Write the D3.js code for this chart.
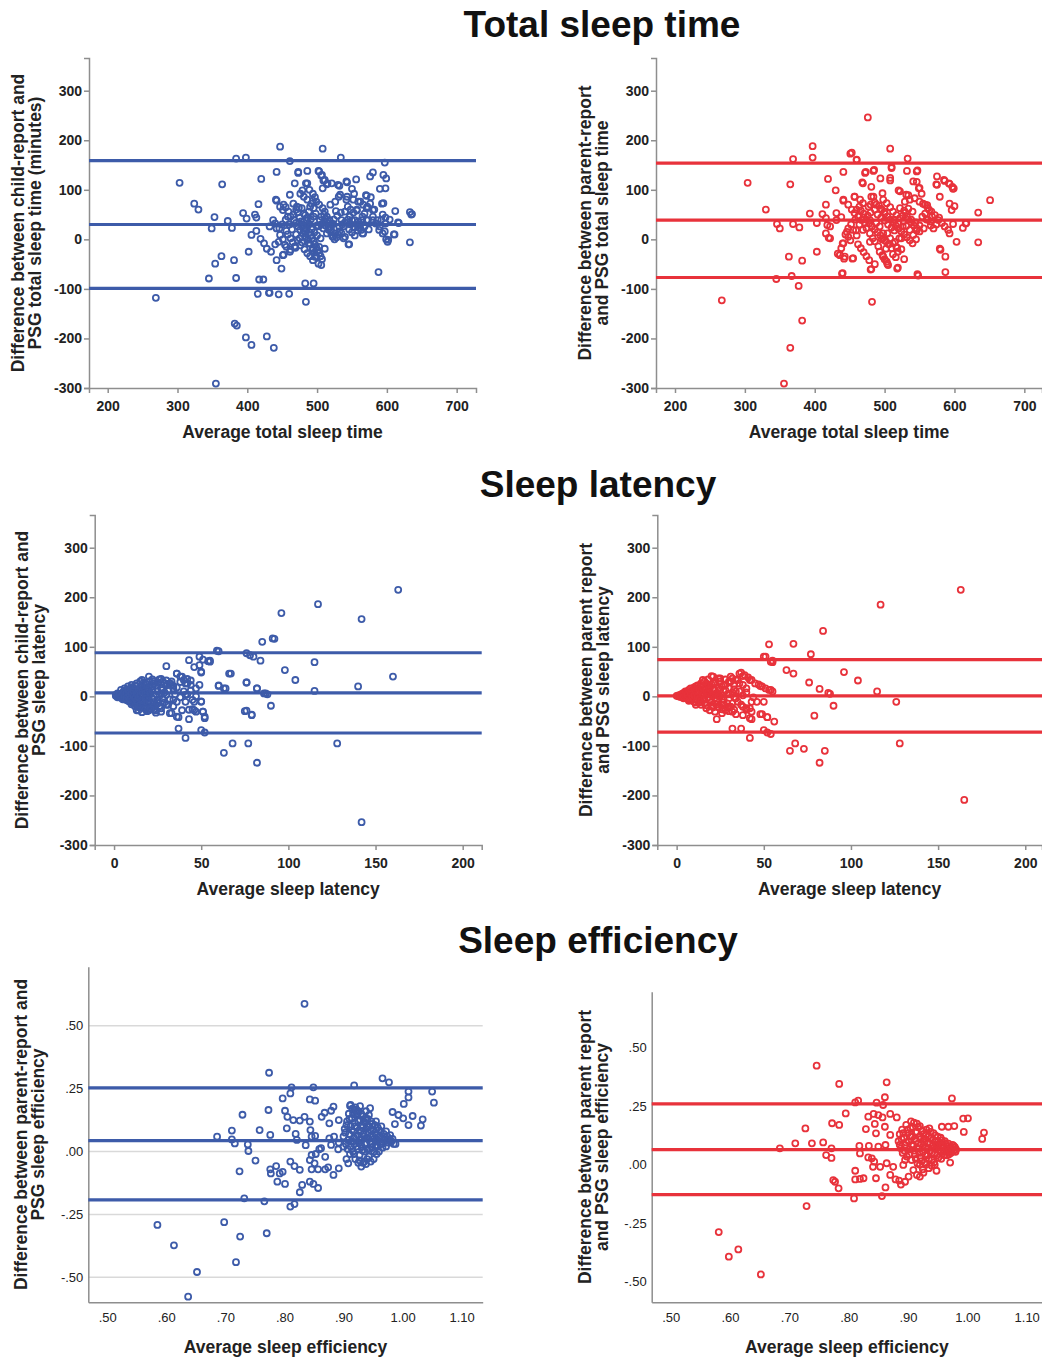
<!DOCTYPE html>
<html lang="en">
<head>
<meta charset="UTF-8">
<title>Bland-Altman plots: sleep report vs PSG</title>
<script src="https://d3js.org/d3.v7.min.js"></script>
<style>
  body { margin: 0; background: #fff; font-family: "Liberation Sans", Arial, sans-serif; }
  .title { font-size: 37px; font-weight: bold; text-anchor: middle; fill: #111; }
  .axis-title { font-size: 17.5px; font-weight: bold; text-anchor: middle; fill: #222; }
  .axis path, .axis line { stroke: #8e8e8e; stroke-width: 1.5; }
  .axis text { font-family: "Liberation Sans", Arial, sans-serif; fill: #222; }
  .grid { stroke: #d9d9d9; stroke-width: 1.5; }
</style>
</head>
<body>
<svg id="chart" width="1042" height="1359"></svg>
<script>
// [average, difference] pairs
const tstChild = [
  [269,-118],[303,114],[324,72],[330,60],[364,111],[353,45],[349,22],[372,37],[378,23],[345,-79],[354,-49],[363,-34],[381,-42],[384,-78],[394,53],[399,42],[398,165],[384,163],[406,9],[402,-25],[411,50],[413,44],[416,71],[420,122],[413,17],[419,1],[424,-8],[428,-19],[434,-25],[417,-81],[423,-81],[415,-110],[431,-108],[445,-111],[460,-110],[442,136],[447,187],[461,158],[442,78],[447,66],[451,59],[440,32],[442,22],[445,-5],[440,-10],[442,-42],[449,-59],[451,-32],[456,-15],[461,-25],[456,17],[461,90],[468,113],[473,134],[486,138],[486,113],[479,99],[466,72],[474,64],[481,52],[485,39],[483,5],[488,-8],[493,-22],[497,-35],[502,-49],[506,-52],[469,-17],[483,-89],[484,-126],[502,138],[506,129],[509,119],[514,111],[508,183],[534,165],[532,108],[531,86],[543,115],[550,102],[556,121],[553,92],[543,86],[519,70],[526,76],[527,57],[523,31],[532,25],[523,5],[545,-10],[540,5],[511,-19],[503,-15],[557,58],[562,76],[570,89],[576,127],[580,135],[577,85],[580,59],[563,19],[566,12],[571,39],[580,39],[587,39],[588,-66],[589,19],[594,12],[593,72],[594,50],[597,155],[595,130],[599,123],[598,103],[598,32],[599,0],[601,-5],[611,10],[612,57],[617,33],[633,55],[636,51],[633,-6],[382,-170],[385,-174],[398,-198],[406,-213],[428,-196],[438,-219],[355,-291],
  [473,136],[503,137],[507,130],[511,120],[515,113],[508,103],[484,113],[489,100],[494,92],[497,85],[499,76],[503,70],[508,63],[511,56],[514,46],[518,39],[521,31],[526,12],[528,4],[441,80],[452,70],[455,65],[459,56],[462,46],[467,39],[470,33],[473,26],[476,19],[480,12],[484,6],[487,-1],[490,-9],[494,-18],[496,-27],[499,-35],[471,66],[478,63],[483,49],[495,63],[495,46],[504,39],[502,26],[509,22],[514,12],[437,39],[432,26],[447,9],[451,0],[454,-11],[452,-31],[462,-21],[468,-14],[521,113],[530,110],[533,90],[542,117],[542,80],[552,80],[559,76],[566,70],[571,63],[571,88],[582,60],[590,102],[595,73],[540,56],[547,46],[550,39],[554,39],[559,36],[564,39],[573,39],[535,39],[538,26],[535,12],[538,2],[546,-10],[565,12],[557,60],[597,16],[602,-1],[610,10],[616,34],[635,50],[495,-89],[432,-108],
  [478,30],[482,24],[488,32],[492,20],[496,14],[500,8],[505,2],[491,40],[498,52],[506,46],[512,28],[516,20],[520,14],[524,40],[529,48],[534,54],[506,30],[510,36],[500,28],[466,50],[460,30],[464,20],[470,10],[475,2],[478,-6],[548,30],[553,24],[558,18],[562,30],[568,26],[574,20],[544,66],[548,60],[552,54],[486,80],[481,86],[476,92],
  [485,20],[487,28],[489,14],[491,8],[493,2],[495,-4],[497,-10],[499,-16],[501,-22],[503,-28],[505,-34],[507,-40],[470,60],[472,54],[475,44],[477,36],[479,28],[481,18],[483,12],[486,44],[488,56],[490,66],[492,72],[494,78],[510,50],[512,42],[514,34],[518,26],[520,20],[522,6],[525,0],[530,10],[532,16],[536,30],[540,34],[544,40],[546,20],[550,14],[554,8],[557,30],[560,24],[565,46],[568,52],[572,66],[576,72],[580,46],[584,32],[590,26],[592,40],[598,44],[604,40],[455,40],[458,46],[450,30],[446,22],[458,10],[462,2],[465,-6],[472,-2],[476,-12],[482,-20],[486,-28],[490,-34],[494,-42]
];
const tstParent = [
  [267,-123],[304,114],[330,60],[345,-80],[346,31],[350,22],[363,-35],[365,111],[369,162],[367,-74],[369,31],[365,-219],[356,-291],[377,-94],[378,24],[382,-43],[382,-164],[393,52],[397,188],[397,165],[403,-25],[403,33],[411,51],[416,43],[416,70],[416,12],[420,3],[419,122],[418,29],[430,99],[433,-29],[436,-32],[438,45],[439,-69],[440,-8],[441,78],[441,136],[442,-39],[446,15],[448,5],[451,-2],[451,173],[454,-39],[460,160],[457,86],[459,18],[466,58],[469,113],[472,134],[476,246],[479,-5],[480,-61],[482,-126],[481,106],[484,138],[481,86],[494,123],[497,93],[497,-32],[502,-19],[504,-49],[508,183],[510,146],[508,119],[512,-30],[515,-5],[518,-17],[518,-59],[520,99],[521,2],[532,138],[533,163],[534,89],[546,116],[546,137],[548,-73],[550,104],[553,92],[546,18],[555,72],[561,69],[564,59],[568,46],[575,127],[575,110],[579,86],[580,-21],[586,118],[587,-35],[587,-66],[593,112],[597,106],[598,102],[593,72],[596,59],[591,19],[593,12],[598,31],[600,67],[603,-5],[612,23],[616,32],[634,54],[634,-6],[651,79],
  [453,175],[460,161],[473,136],[485,140],[510,144],[508,124],[547,139],[468,115],[541,117],[522,97],[531,90],[549,103],[574,111],[585,120],[592,113],[599,103],[441,80],[448,70],[453,60],[457,53],[462,46],[467,39],[472,33],[474,23],[479,12],[483,2],[486,-4],[491,-14],[493,-25],[498,-35],[503,-45],[505,-52],[457,86],[465,80],[469,73],[477,66],[484,86],[498,80],[503,73],[508,65],[512,56],[517,49],[522,43],[527,36],[531,27],[536,19],[541,9],[545,0],[522,63],[529,76],[536,80],[543,83],[550,76],[558,70],[562,63],[567,56],[572,49],[577,39],[582,33],[586,26],[617,33],[508,2],[512,-8],[517,-16],[519,-25],[524,2],[498,12],[493,26],[488,33],[479,39],[469,19],[455,19],[441,-8],[438,-18],[436,-31],[443,-35],[455,-38],[481,-60],[519,-57],[547,-70],[579,-19],[440,-68],[431,39],[422,26],[422,2],[431,53],
  [490,50],[495,44],[500,38],[505,30],[510,24],[514,18],[486,60],[480,54],[476,48],[514,40],[520,32],[526,26],[532,46],[538,40],[544,34],[550,28],[556,22],[560,40],[566,36],[500,56],[494,62],[488,70],[470,52],[464,30],[460,8],[504,12],[500,-2],[496,0],[540,56],[534,62],[528,58],
  [470,44],[474,40],[478,32],[482,26],[486,20],[490,14],[494,8],[498,2],[502,-4],[506,-10],[510,-18],[480,70],[486,74],[492,68],[496,60],[500,52],[504,46],[508,40],[512,34],[516,28],[520,22],[524,16],[528,10],[532,4],[536,-2],[540,-8],[526,48],[530,54],[534,40],[538,34],[542,28],[546,22],[550,16],[554,46],[558,52],[562,40],[566,28],[570,22],[574,30],[578,44],[460,60],[464,66],[458,40],[452,30],[448,22],[444,10],[462,-10],[466,-18],[470,-26],[474,-34],[478,-42],[486,-50],[500,-40],[516,-36],[524,-20],[528,-40]
];
const slChild = [
  [163,215],[117,186],[142,156],[96,168],[92,116],[85,110],[60,91],[76,87],[78,83],[80,80],[84,72],[49,80],[51,74],[54,71],[55,70],[43,73],[46,59],[49,63],[50,48],[66,46],[98,53],[115,69],[104,33],[160,40],[140,20],[115,11],[82,16],[76,28],[60,22],[64,16],[86,6],[88,4],[90,-19],[75,-30],[79,-37],[30,61],[36,46],[39,40],[42,35],[44,32],[41,26],[38,29],[20,40],[27,35],[30,32],[32,26],[34,21],[49,23],[41,3],[46,-11],[45,-26],[47,-31],[51,-31],[52,-44],[43,-46],[37,-42],[37,-65],[41,-84],[50,-68],[52,-73],[63,-114],[68,-95],[77,-95],[82,-134],[128,-95],[142,-254],[47,0],[50,-10],[34,-7],[30,-17],[27,-31],[24,-33],[22,-21],[18,-24],[16,-32],[13,-28],[33,-34],[30,3],
  [1,3],[2,6],[3,-1],[4,13],[5,-4],[6,16],[7,-7],[8,20],[9,-11],[10,23],[11,-14],[13,26],[13,-17],[15,30],[15,-22],[17,-21],[16,33],[20,-1],[23,-11],[23,26],[24,-17],[26,34],[27,6],[28,-4],[29,26],[31,-17],[32,26],[32,-34],[33,23],[34,16],[36,-11],[36,-41],[36,46],[38,40],[40,33],[41,-11],[42,26],[43,-27],[44,23],[45,-7],[46,-28],[47,16],[50,50],[50,-11],[51,-31],[52,-41],[55,72],[59,92],[60,21],[63,16],[67,46],[76,28],[76,-29],[79,-38],[82,16],[87,6],[91,117],
  [2,0],[3,2],[4,4],[4,-3],[5,8],[6,2],[6,-6],[7,10],[7,0],[8,4],[8,-9],[9,14],[9,6],[10,-2],[10,10],[11,17],[11,-8],[12,4],[12,12],[12,-12],[13,20],[14,8],[14,-6],[15,14],[15,-14],[16,22],[16,0],[17,10],[17,-10],[18,26],[18,16],[18,-18],[19,4],[20,30],[20,10],[21,-14],[22,20],[22,34],[23,-26],[24,4],[25,28],[25,-8],[26,-20],[27,16],[28,30],[29,-12],[20,-28],[12,-20],[10,-16],[14,-22],[19,-30],[24,-28],
  [1,1],[2,-2],[3,4],[4,0],[5,5],[5,-6],[6,12],[6,-1],[7,6],[7,-4],[8,14],[8,-1],[9,2],[9,-6],[10,18],[10,6],[11,1],[11,11],[12,-4],[12,22],[13,6],[13,-9],[14,14],[14,-2],[15,20],[15,4],[15,-18],[16,10],[16,-8],[17,18],[17,28],[18,6],[18,-4],[19,24],[19,-12],[20,16],[20,-8],[21,6],[22,12],[22,-4],[23,30],[23,-20],[24,22],[25,10],[25,-14],[26,0],[27,24],[27,-24],[28,16],[29,8],[30,22],[31,12],[32,-6],[33,30],[34,-20],[35,4],[36,18],[38,-2],[39,-28],[40,10],[42,4],[44,12],[18,-26],[14,-28],[21,-26]
];
const slParent = [
  [163,215],[117,185],[84,132],[53,105],[67,106],[77,85],[50,80],[55,72],[55,69],[63,53],[67,46],[96,49],[104,32],[76,28],[82,15],[115,10],[87,7],[88,5],[90,-19],[79,-39],[126,-11],[128,-95],[165,-209],[65,-110],[68,-95],[73,-106],[85,-110],[82,-134],[50,-68],[52,-73],[54,-76],[42,-84],[32,-65],[37,-65],[23,-46],[49,-36],[52,-42],[56,-51],[43,-46],[43,-11],[50,-11],[38,23],[36,46],[38,41],[42,33],[45,26],[48,21],[51,16],[54,13],[55,10],[21,40],[25,36],[28,34],[30,30],[34,33],[33,14],[15,33],[17,26],[19,20],[21,13],[23,7],[25,0],[27,-7],[29,-14],[31,-21],[33,-27],[34,-36],[35,-11],[38,-21],[40,-27],[42,-24],
  [20,41],[31,30],[33,25],[35,33],[37,48],[39,43],[41,38],[43,33],[47,24],[49,20],[53,13],[11,20],[10,13],[8,9],[6,6],[4,4],[2,3],[0,1],[4,-4],[7,-7],[10,-11],[11,-17],[14,-17],[17,-24],[19,-28],[22,-31],[26,-34],[28,-28],[30,-21],[32,-14],[32,-31],[37,-17],[38,-38],[40,-24],[42,-44],[43,-31],[46,-11],[48,-36],[52,-42],[51,80],[54,70],
  [1,0],[2,-1],[3,1],[3,5],[5,2],[5,-2],[6,9],[7,2],[8,-4],[9,12],[9,3],[10,-6],[11,6],[12,16],[12,-9],[13,9],[13,-12],[14,20],[14,2],[15,-8],[16,14],[16,-14],[17,4],[18,22],[18,-2],[19,10],[20,-20],[21,26],[22,4],[23,-16],[24,16],[25,30],[26,-6],[27,22],[28,12],[29,-22],[30,4],[31,40],[32,8],[34,-4],[36,10],[40,8],[44,-2],[24,-22],[20,-12],
  [1,2],[2,1],[3,-2],[4,7],[4,-1],[5,10],[6,-4],[6,3],[7,13],[7,-9],[8,6],[8,16],[9,-2],[10,18],[10,2],[11,-12],[11,10],[12,22],[12,0],[13,15],[13,-5],[14,26],[14,-10],[15,18],[15,3],[16,30],[16,-4],[17,12],[17,-18],[18,34],[18,8],[19,-6],[19,16],[20,24],[20,2],[21,-22],[22,12],[22,28],[23,-8],[24,36],[24,0],[25,14],[26,20],[26,-26],[27,-12],[28,24],[29,4],[30,-30],[30,16],[32,36],[33,-2],[34,10],[36,26],[38,2],[40,16],[26,-18],[22,-14]
];
const seChild = [
  [0.834,0.587],[0.774,0.313],[0.966,0.291],[0.977,0.275],[0.918,0.263],[0.812,0.255],[0.849,0.255],[1.050,0.238],[1.010,0.238],[1.010,0.215],[1.053,0.194],[1.002,0.189],[0.810,0.231],[0.797,0.211],[0.843,0.207],[0.852,0.202],[0.773,0.165],[0.801,0.162],[0.729,0.146],[0.945,0.172],[0.983,0.157],[0.993,0.145],[1.001,0.132],[1.017,0.141],[1.034,0.128],[1.031,0.103],[1.010,0.105],[0.987,0.109],[0.805,0.138],[0.815,0.125],[0.826,0.123],[0.834,0.138],[0.843,0.119],[0.804,0.092],[0.758,0.085],[0.711,0.083],[0.686,0.059],[0.711,0.048],[0.716,0.032],[0.738,0.028],[0.739,0.002],[0.776,0.066],[0.819,0.070],[0.821,0.046],[0.836,0.025],[0.844,0.085],[0.846,0.059],[0.852,0.062],[0.751,-0.036],[0.724,-0.079],[0.732,-0.186],[0.766,-0.198],[0.810,-0.219],[0.817,-0.209],[0.826,-0.162],[0.830,-0.133],[0.857,-0.145],[0.843,-0.120],[0.849,-0.129],[0.801,-0.129],[0.788,-0.120],[0.792,-0.087],[0.797,-0.081],[0.776,-0.071],[0.777,-0.087],[0.786,-0.058],[0.810,-0.040],[0.817,-0.058],[0.826,-0.073],[0.846,-0.071],[0.851,-0.047],[0.843,-0.034],[0.846,-0.014],[0.853,-0.010],[0.859,0.009],[0.862,0.013],[0.869,-0.021],[0.857,-0.071],[0.869,-0.071],[0.874,-0.063],[0.883,-0.093],[0.892,-0.067],[0.908,-0.047],[0.891,0.009],[0.879,0.026],[0.876,0.052],[0.884,0.059],[0.892,0.035],[0.900,0.019],[0.863,0.138],[0.868,0.154],[0.879,0.162],[0.883,0.178],[0.876,0.112],[0.892,0.125],[0.911,0.182],[0.918,0.167],[0.923,0.152],[0.585,-0.292],[0.613,-0.373],[0.652,-0.479],[0.637,-0.577],[0.698,-0.281],[0.725,-0.338],[0.718,-0.440],[0.770,-0.325],
  [0.900,0.060],[0.902,0.090],[0.904,0.030],[0.906,0.120],[0.907,0.010],[0.909,0.150],[0.910,0.070],[0.911,-0.010],[0.912,0.100],[0.913,0.040],[0.914,0.130],[0.915,0.170],[0.916,0.000],[0.917,0.080],[0.918,0.055],[0.919,0.115],[0.920,-0.030],[0.921,0.145],[0.922,0.020],[0.923,0.095],[0.924,0.065],[0.925,0.160],[0.926,0.035],[0.927,-0.015],[0.928,0.125],[0.929,0.080],[0.930,0.050],[0.931,0.105],[0.932,0.005],[0.933,0.140],[0.934,0.070],[0.935,-0.040],[0.936,0.030],[0.937,0.115],[0.938,0.090],[0.939,0.055],[0.940,0.010],[0.941,0.130],[0.942,0.075],[0.943,-0.020],[0.944,0.100],[0.945,0.040],[0.946,0.060],[0.947,0.120],[0.948,0.015],[0.950,0.085],[0.951,-0.030],[0.952,0.050],[0.953,0.105],[0.955,0.025],[0.956,0.070],[0.958,0.095],[0.959,0.040],[0.960,0.000],[0.962,0.060],[0.963,0.080],[0.965,0.030],[0.966,0.050],[0.968,0.070],[0.970,0.045],[0.972,0.020],[0.974,0.060],[0.976,0.035],[0.978,0.050],[0.981,0.040],[0.985,0.030],[0.988,0.030],[0.925,-0.045],[0.930,-0.060],[0.938,-0.050],[0.946,-0.040],[0.905,-0.030],[0.928,0.180],[0.920,0.175],[0.912,0.185],[0.938,0.160],
  [0.903,0.075],[0.905,0.105],[0.908,0.045],[0.910,0.130],[0.912,0.020],[0.914,0.085],[0.916,0.150],[0.918,0.030],[0.919,0.100],[0.921,0.060],[0.922,0.165],[0.924,0.010],[0.925,0.120],[0.927,0.085],[0.928,0.045],[0.930,0.150],[0.931,0.020],[0.932,0.095],[0.934,0.120],[0.935,0.060],[0.936,0.000],[0.938,0.130],[0.939,0.030],[0.940,0.100],[0.942,0.050],[0.943,0.145],[0.944,0.010],[0.946,0.085],[0.947,0.030],[0.949,0.110],[0.950,0.060],[0.952,0.000],[0.953,0.075],[0.955,0.120],[0.956,0.045],[0.958,0.020],[0.960,0.085],[0.961,0.060],[0.964,0.100],[0.966,0.015],[0.969,0.060],[0.972,0.080],[0.975,0.045],[0.979,0.065],[0.983,0.050],[0.940,-0.030],[0.933,-0.045],[0.927,-0.035],[0.918,-0.010],[0.956,-0.010],[0.962,0.030]
];
const seParent = [
  [0.746,0.423],[0.784,0.345],[0.864,0.352],[0.861,0.288],[0.974,0.283],[0.811,0.266],[0.816,0.274],[0.847,0.265],[0.858,0.255],[0.795,0.219],[0.833,0.205],[0.842,0.217],[0.850,0.212],[0.857,0.202],[0.870,0.217],[0.881,0.202],[0.727,0.155],[0.772,0.177],[0.784,0.170],[0.829,0.152],[0.844,0.174],[0.846,0.134],[0.861,0.162],[0.870,0.127],[0.993,0.197],[1.001,0.198],[0.994,0.140],[0.957,0.162],[0.968,0.162],[0.978,0.165],[1.028,0.137],[1.025,0.110],[0.684,0.070],[0.710,0.091],[0.738,0.091],[0.757,0.095],[0.771,0.070],[0.762,0.041],[0.771,0.029],[0.818,0.080],[0.819,0.048],[0.834,0.080],[0.833,0.031],[0.839,0.027],[0.850,0.077],[0.843,0.013],[0.853,-0.009],[0.841,-0.009],[0.862,0.084],[0.864,0.006],[0.875,-0.009],[0.870,-0.044],[0.879,-0.063],[0.885,-0.068],[0.888,-0.085],[0.895,-0.073],[0.901,-0.051],[0.892,-0.001],[0.895,0.020],[0.811,-0.026],[0.811,-0.063],[0.819,-0.061],[0.825,-0.058],[0.846,-0.058],[0.774,-0.066],[0.777,-0.073],[0.783,-0.101],[0.809,-0.144],[0.856,-0.134],[0.862,-0.097],[0.729,-0.177],[0.581,-0.288],[0.598,-0.393],[0.614,-0.362],[0.652,-0.469],[0.909,-0.023],[0.915,-0.044],[0.920,-0.051],[0.926,-0.034],[0.948,-0.026],[0.971,0.009],
  [0.884,0.100],[0.886,0.130],[0.888,0.070],[0.890,0.150],[0.891,0.050],[0.893,0.115],[0.895,0.085],[0.897,0.170],[0.898,0.035],[0.900,0.135],[0.901,0.100],[0.903,0.065],[0.904,0.155],[0.906,0.020],[0.907,0.120],[0.909,0.080],[0.910,0.180],[0.912,0.045],[0.913,0.140],[0.914,0.100],[0.916,0.005],[0.917,0.160],[0.918,0.070],[0.920,0.120],[0.921,0.030],[0.922,0.090],[0.924,0.145],[0.925,0.055],[0.927,0.110],[0.928,0.010],[0.930,0.075],[0.931,0.130],[0.933,0.040],[0.934,0.095],[0.936,0.155],[0.937,0.060],[0.939,0.115],[0.940,0.020],[0.942,0.085],[0.943,0.135],[0.945,0.045],[0.946,0.100],[0.948,0.070],[0.950,0.120],[0.951,0.030],[0.953,0.090],[0.955,0.055],[0.957,0.105],[0.959,0.075],[0.961,0.040],[0.963,0.090],[0.965,0.060],[0.967,0.080],[0.969,0.045],[0.971,0.070],[0.973,0.055],[0.975,0.085],[0.977,0.060],[0.979,0.075],[0.981,0.065],[0.935,-0.015],[0.925,-0.020],[0.945,0.000],[0.915,0.175],[0.905,0.185],
  [0.886,0.085],[0.889,0.110],[0.892,0.135],[0.894,0.060],[0.897,0.095],[0.899,0.150],[0.902,0.045],[0.904,0.120],[0.906,0.085],[0.908,0.160],[0.910,0.060],[0.911,0.110],[0.913,0.025],[0.915,0.140],[0.917,0.090],[0.919,0.050],[0.920,0.165],[0.922,0.110],[0.923,0.015],[0.925,0.075],[0.926,0.130],[0.928,0.095],[0.929,0.040],[0.931,0.150],[0.932,0.065],[0.934,0.120],[0.935,0.025],[0.937,0.090],[0.938,0.140],[0.940,0.050],[0.941,0.105],[0.943,0.070],[0.944,0.010],[0.946,0.125],[0.948,0.085],[0.949,0.040],[0.951,0.100],[0.953,0.065],[0.955,0.115],[0.956,0.025],[0.958,0.085],[0.960,0.055],[0.962,0.100],[0.964,0.070],[0.966,0.040],[0.968,0.090],[0.970,0.060],[0.972,0.050],[0.974,0.070],[0.977,0.080],[0.980,0.055],[0.930,0.000],[0.940,-0.005],[0.920,0.000]
];

// upper limit, mean bias, lower limit
const tstChildLines = [159, 30, -99];
const tstParentLines = [154, 39, -77];
const slChildLines = [88, 7, -74];
const slParentLines = [74, 1, -72];
const seChildLines = [0.253, 0.043, -0.192];
const seParentLines = [0.26, 0.064, -0.128];

const tstXTicks = [200, 300, 400, 500, 600, 700];
const slXTicks = [0, 50, 100, 150, 200];
const diffTicks = [-300, -200, -100, 0, 100, 200, 300];
const seXTicks = [0.5, 0.6, 0.7, 0.8, 0.9, 1.0, 1.1];
const seYTicks = [-0.5, -0.25, 0, 0.25, 0.5];

const blue = "#3d5ba9";
const red = "#e8323b";

const svg = d3.select("#chart");

const plain = d => String(d);
const spss = d => d.toFixed(2).replace(/^(-?)0\./, "$1.");

const panels = [
  {data: tstChild, lines: tstChildLines, color: blue,
   x: [173.2, 727.7], xr: [89, 476], y: [-300, 366], yr: [388, 58],
   xTicks: tstXTicks, yTicks: diffTicks, fx: plain, fy: plain, top: true, grid: false,
   yTitle: ["Difference between child-report and", "PSG total sleep time (minutes)"], yTitleX: 24,
   xTitle: "Average total sleep time", xTitleY: 438},
  {data: tstParent, lines: tstParentLines, color: red,
   x: [172.8, 725.3], xr: [656, 1042], y: [-300, 366], yr: [388, 58],
   xTicks: tstXTicks, yTicks: diffTicks, fx: plain, fy: plain, top: true, grid: false,
   yTitle: ["Difference between parent-report", "and PSG total sleep time"], yTitleX: 591,
   xTitle: "Average total sleep time", xTitleY: 438},
  {data: slChild, lines: slChildLines, color: blue,
   x: [-11.1, 210.9], xr: [94.7, 481.7], y: [-300, 366], yr: [845, 515],
   xTicks: slXTicks, yTicks: diffTicks, fx: plain, fy: plain, top: true, grid: false,
   yTitle: ["Difference between child-report and", "PSG sleep latency"], yTitleX: 28,
   xTitle: "Average sleep latency", xTitleY: 895},
  {data: slParent, lines: slParentLines, color: red,
   x: [-11.1, 209.6], xr: [657.3, 1042], y: [-300, 366], yr: [845, 515],
   xTicks: slXTicks, yTicks: diffTicks, fx: plain, fy: plain, top: true, grid: false,
   yTitle: ["Difference between parent report", "and PSG sleep latency"], yTitleX: 592,
   xTitle: "Average sleep latency", xTitleY: 895},
  {data: seChild, lines: seChildLines, color: blue,
   x: [0.468, 1.1356], xr: [88.3, 482.7], y: [-0.5994, 0.7345], yr: [1302.3, 966.7],
   xTicks: seXTicks, yTicks: seYTicks, fx: spss, fy: spss, top: false, grid: true,
   yTitle: ["Difference between parent-report and", "PSG sleep efficiency"], yTitleX: 27,
   xTitle: "Average sleep efficiency", xTitleY: 1353},
  {data: seParent, lines: seParentLines, color: red,
   x: [0.468, 1.1258], xr: [651.7, 1042], y: [-0.588, 0.739], yr: [1302.3, 991.7],
   xTicks: seXTicks, yTicks: seYTicks, fx: spss, fy: spss, top: false, grid: false,
   yTitle: ["Difference between parent report", "and PSG sleep efficiency"], yTitleX: 591,
   xTitle: "Average sleep efficiency", xTitleY: 1353}
];

function drawPanel(p) {
  const x = d3.scaleLinear().domain(p.x).range(p.xr);
  const y = d3.scaleLinear().domain(p.y).range(p.yr);
  const g = svg.append("g");

  if (p.grid) {
    g.selectAll(".grid")
      .data(p.yTicks)
      .join("line")
      .attr("class", "grid")
      .attr("x1", p.xr[0]).attr("x2", p.xr[1])
      .attr("y1", d => y(d)).attr("y2", d => y(d));
  }

  const xAxis = d3.axisBottom(x).tickValues(p.xTicks).tickFormat(p.fx)
    .tickSizeOuter(0).tickSize(p.top ? 5 : 0).tickPadding(p.top ? 8 : 10);
  const yAxis = d3.axisLeft(y).tickValues(p.yTicks).tickFormat(p.fy)
    .tickSizeOuter(0).tickSize(p.top ? 5 : 0).tickPadding(p.top ? 2 : 5);

  g.append("g")
    .attr("class", "axis")
    .attr("transform", `translate(0,${p.yr[0]})`)
    .call(xAxis);
  g.append("g")
    .attr("class", "axis")
    .attr("transform", `translate(${p.xr[0]},0)`)
    .call(yAxis);

  g.selectAll(".axis text")
    .style("font-size", p.top ? "14px" : "13px")
    .style("font-weight", p.top ? "bold" : "normal");

  g.selectAll(".ref")
    .data(p.lines)
    .join("line")
    .attr("class", "ref")
    .attr("x1", p.xr[0]).attr("x2", p.xr[1])
    .attr("y1", d => y(d)).attr("y2", d => y(d))
    .attr("stroke", p.color)
    .attr("stroke-width", 3.2);

  g.selectAll(".pt")
    .data(p.data)
    .join("circle")
    .attr("class", "pt")
    .attr("cx", d => x(d[0]))
    .attr("cy", d => y(d[1]))
    .attr("r", 3)
    .attr("fill", "none")
    .attr("stroke", p.color)
    .attr("stroke-width", 1.8);

  const cy = (p.yr[0] + p.yr[1]) / 2;
  const t = g.append("text")
    .attr("class", "axis-title")
    .attr("transform", `translate(${p.yTitleX},${cy}) rotate(-90)`);
  p.yTitle.forEach((line, i) => {
    t.append("tspan").attr("x", 0).attr("y", i * 17).text(line);
  });

  g.append("text")
    .attr("class", "axis-title")
    .attr("x", (p.xr[0] + p.xr[1]) / 2)
    .attr("y", p.xTitleY)
    .text(p.xTitle);
}

panels.forEach(drawPanel);

const titles = [
  {text: "Total sleep time", x: 602, y: 37},
  {text: "Sleep latency", x: 598, y: 497},
  {text: "Sleep efficiency", x: 598, y: 953}
];
svg.selectAll(".title")
  .data(titles)
  .join("text")
  .attr("class", "title")
  .attr("x", d => d.x)
  .attr("y", d => d.y)
  .text(d => d.text);
</script>
</body>
</html>
